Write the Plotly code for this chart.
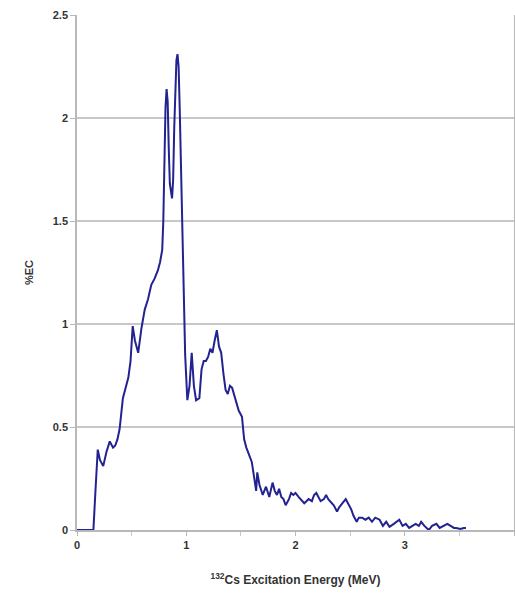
import plotly.graph_objects as go

energy = [0.0, 0.15, 0.17, 0.19, 0.21, 0.24, 0.27, 0.30, 0.33, 0.35, 0.37, 0.39, 0.42, 0.44, 0.47, 0.49,
          0.51, 0.53, 0.56, 0.59, 0.62, 0.65, 0.68, 0.71, 0.74, 0.76, 0.78, 0.79, 0.80, 0.81, 0.82, 0.83,
          0.84, 0.85, 0.87, 0.88, 0.89, 0.90, 0.91, 0.92, 0.93, 0.94, 0.95, 0.97, 0.99, 1.01, 1.03, 1.05,
          1.07, 1.09, 1.12, 1.14, 1.16, 1.18, 1.20, 1.22, 1.24, 1.26, 1.28, 1.30, 1.32, 1.34, 1.36, 1.38,
          1.40, 1.42, 1.44, 1.46, 1.48, 1.51, 1.53, 1.55, 1.57, 1.60, 1.62, 1.64, 1.65, 1.67, 1.70, 1.73,
          1.76, 1.79, 1.81, 1.83, 1.85, 1.87, 1.89, 1.91, 1.94, 1.96, 1.98, 2.00, 2.03, 2.05, 2.08, 2.10,
          2.12, 2.15, 2.17, 2.19, 2.21, 2.23, 2.26, 2.28, 2.30, 2.33, 2.35, 2.38, 2.40, 2.43, 2.46, 2.48,
          2.51, 2.53, 2.56, 2.58, 2.61, 2.64, 2.67, 2.70, 2.73, 2.77, 2.80, 2.83, 2.86, 2.90, 2.93, 2.95,
          2.98, 3.01, 3.04, 3.07, 3.10, 3.13, 3.15, 3.18, 3.22, 3.25, 3.29, 3.32, 3.35, 3.39, 3.42, 3.45,
          3.47, 3.51, 3.54, 3.56]

pct_ec = [0.0, 0.0, 0.2, 0.39, 0.34, 0.31, 0.38, 0.43, 0.40, 0.41, 0.44, 0.49, 0.64, 0.68, 0.74, 0.82,
          0.99, 0.92, 0.86, 0.98, 1.07, 1.12, 1.19, 1.22, 1.26, 1.30, 1.36, 1.50, 1.80, 2.05, 2.14, 2.08,
          1.85, 1.68, 1.61, 1.70, 1.95, 2.15, 2.28, 2.31, 2.25, 2.05, 1.80, 1.30, 0.85, 0.63, 0.70, 0.86,
          0.70, 0.63, 0.64, 0.78, 0.82, 0.82, 0.84, 0.88, 0.86, 0.92, 0.97, 0.89, 0.86, 0.76, 0.68, 0.66,
          0.70, 0.69, 0.65, 0.62, 0.58, 0.55, 0.44, 0.40, 0.37, 0.33, 0.26, 0.19, 0.28, 0.22, 0.17, 0.21,
          0.16, 0.23, 0.19, 0.17, 0.20, 0.16, 0.15, 0.12, 0.15, 0.18, 0.17, 0.18, 0.16, 0.15, 0.13, 0.14,
          0.15, 0.14, 0.17, 0.18, 0.16, 0.14, 0.15, 0.17, 0.15, 0.13, 0.12, 0.09, 0.11, 0.13, 0.15, 0.13,
          0.10, 0.07, 0.04, 0.06, 0.06, 0.05, 0.06, 0.04, 0.06, 0.05, 0.02, 0.04, 0.015, 0.03, 0.04, 0.05,
          0.02, 0.03, 0.01, 0.02, 0.03, 0.02, 0.04, 0.02, 0.00, 0.02, 0.03, 0.01, 0.02, 0.03, 0.02, 0.01,
          0.01, 0.005, 0.01, 0.01]

x_ticks = [0, 1, 2, 3, 4]
y_ticks = [0, 0.5, 1, 1.5, 2, 2.5]
y_tick_labels = ["0", "0.5", "1", "1.5", "2", "2.5"]

fig = go.Figure()
fig.add_trace(go.Scatter(x=energy, y=pct_ec, mode="lines",
                         line=dict(color="#222290", width=2), showlegend=False))

font_main = "Liberation Sans, Arial, sans-serif"
fig.update_layout(
    width=515, height=598, autosize=False,
    margin=dict(l=77, r=1, t=15, b=68, autoexpand=False),
    paper_bgcolor="white", plot_bgcolor="white",
    font=dict(family=font_main, size=11, color="#333333"),
    xaxis=dict(range=[0, 4], tickvals=x_ticks, ticktext=[str(v) for v in x_ticks], automargin=False,
               showgrid=False, zeroline=False, showline=True, linecolor="#b8b8b8", linewidth=1.5,
               ticks="outside", ticklen=4, tickcolor="#b8b8b8",
               minor=dict(dtick=0.5, ticks="outside", ticklen=4, tickcolor="#c8c8c8"),
               tickfont=dict(family=font_main, size=11, color="#333333", weight="bold"),
               title=dict(text="<sup>132</sup>Cs Excitation Energy (MeV)", standoff=26,
                          font=dict(family=font_main, size=12, color="#333333", weight="bold"))),
    yaxis=dict(range=[0, 2.5], tickvals=y_ticks, ticktext=y_tick_labels, automargin=False,
               showgrid=True, gridcolor="#c8c8c8", gridwidth=1.5, zeroline=False,
               showline=True, linecolor="#b8b8b8", linewidth=1.5, mirror=True,
               ticks="outside", ticklen=5, tickcolor="#b8b8b8",
               tickfont=dict(family=font_main, size=11, color="#333333", weight="bold"),
               title=dict(text="%EC", standoff=17,
                          font=dict(family=font_main, size=11, color="#333333", weight="bold"))),
)

post = ("document.body.style.margin='0';document.body.style.padding='0';"
        "document.body.style.overflow='hidden';"
        "var gd=document.getElementById('{plot_id}');"
        "Plotly.relayout(gd,{width:515,height:598});")

fig.write_html("out.html", post_script=post,
               config={"responsive": False, "displayModeBar": False})
